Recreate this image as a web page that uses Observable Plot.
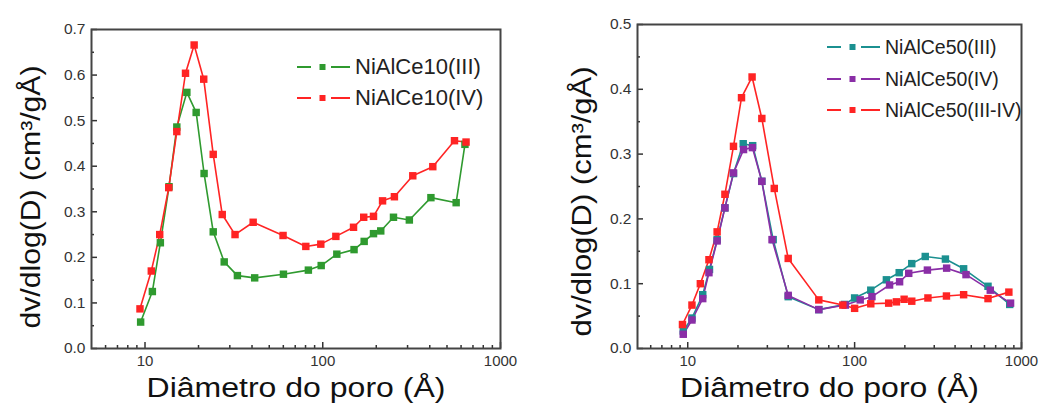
<!DOCTYPE html>
<html>
<head>
<meta charset="utf-8">
<script src="https://cdn.jsdelivr.net/npm/d3@7"></script>
<script src="https://cdn.jsdelivr.net/npm/@observablehq/plot@0.6"></script>
<style>
  body { margin: 0; background: #fff; font-family: "Liberation Sans", Arial, sans-serif; }
  #wrap { position: relative; width: 1048px; height: 403px; overflow: hidden; }
  .panel { position: absolute; top: 0; }
  .panel svg { max-width: none; overflow: visible; }
  .legend { position: absolute; color: #222; }
  .legend .row { position: absolute; display: flex; align-items: center; white-space: nowrap; }
  .legend svg { display: block; margin-right: 5px; }
</style>
</head>
<body>
<div id="wrap"></div>
<script>
// Pore size distributions: diameter (Å) against dV/dlog(D) (cm³/gÅ)

// NiAlCe10(III)
const ce10IIIDiam  = [9.45, 11.0, 12.2, 13.65, 15.1, 17.2, 19.4, 21.5, 24.2, 27.9, 33.1, 41.4, 60.1, 83, 98, 120, 150, 171, 193, 212, 250, 307, 406, 563, 631];
const ce10IIIValue = [0.058, 0.125, 0.232, 0.355, 0.486, 0.562, 0.518, 0.384, 0.256, 0.19, 0.16, 0.155, 0.163, 0.172, 0.182, 0.207, 0.217, 0.235, 0.252, 0.258, 0.288, 0.282, 0.331, 0.32, 0.448];

// NiAlCe10(IV)
const ce10IVDiam  = [9.37, 10.85, 12.1, 13.6, 15.1, 16.9, 18.9, 21.4, 24.2, 27.2, 32.1, 40.6, 59.8, 80.3, 97.5, 118.5, 149, 170, 193, 217, 253, 321, 416, 551, 640];
const ce10IVValue = [0.087, 0.17, 0.25, 0.353, 0.476, 0.604, 0.666, 0.591, 0.426, 0.294, 0.25, 0.277, 0.248, 0.224, 0.229, 0.246, 0.266, 0.288, 0.29, 0.324, 0.333, 0.379, 0.399, 0.456, 0.453];

// NiAlCe50(III)
const ce50IIIDiam  = [9.4, 10.6, 12.3, 13.5, 15.0, 16.7, 18.8, 21.5, 24.5, 27.8, 32.5, 40, 61, 87, 100, 125, 155, 185, 220, 265, 350, 450, 630, 850];
const ce50IIIValue = [0.027, 0.047, 0.083, 0.122, 0.168, 0.217, 0.27, 0.316, 0.313, 0.258, 0.168, 0.08, 0.06, 0.068, 0.078, 0.09, 0.106, 0.117, 0.131, 0.142, 0.138, 0.123, 0.096, 0.068];

// NiAlCe50(IV)
const ce50IVDiam  = [9.4, 10.6, 12.3, 13.4, 15.0, 16.7, 18.8, 21.6, 24.4, 27.8, 32.0, 40, 61, 88, 108, 127, 162, 186, 211, 273, 356, 465, 650, 860];
const ce50IVValue = [0.022, 0.044, 0.077, 0.117, 0.166, 0.217, 0.271, 0.307, 0.31, 0.258, 0.168, 0.082, 0.06, 0.067, 0.075, 0.08, 0.098, 0.103, 0.116, 0.121, 0.124, 0.114, 0.09, 0.07];

// NiAlCe50(III-IV)
const ce50MixDiam  = [9.3, 10.6, 11.9, 13.4, 15.0, 16.7, 18.8, 21.0, 24.3, 27.8, 33.0, 40, 61, 85, 100, 125, 160, 178, 198, 220, 275, 355, 450, 630, 840];
const ce50MixValue = [0.037, 0.067, 0.1, 0.137, 0.18, 0.238, 0.312, 0.387, 0.419, 0.355, 0.247, 0.139, 0.075, 0.067, 0.062, 0.069, 0.07, 0.072, 0.076, 0.073, 0.078, 0.081, 0.083, 0.077, 0.087];

// Axis ticks
const xDomain = [5, 1000];
const xMajorTicks = [10, 100, 1000];
const xMinorTicks = [6, 7, 8, 9, 20, 30, 40, 50, 60, 70, 80, 90, 200, 300, 400, 500, 600, 700, 800, 900];
const xTitle = "Diâmetro do poro (Å)";
const yTitle = "dv/dlog(D) (cm³/gÅ)";

const panels = [
  {
    left: 0, width: 520, marginLeft: 91, marginRight: 20, marginTop: 29, yMax: 0.7,
    yLabelDx: -60, yLabelDy: 8, yLabelLength: 263,
    series: [
      {name: "NiAlCe10(III)", diam: ce10IIIDiam, value: ce10IIIValue, color: "#2f9a2f"},
      {name: "NiAlCe10(IV)", diam: ce10IVDiam, value: ce10IVValue, color: "#ff2424"}
    ],
    legend: {left: 297, rows: [67, 98], fontSize: 22}
  },
  {
    left: 520, width: 528, marginLeft: 117, marginRight: 27, marginTop: 24, yMax: 0.5,
    yLabelDx: -55, yLabelDy: 15, yLabelLength: 270,
    series: [
      {name: "NiAlCe50(III)", diam: ce50IIIDiam, value: ce50IIIValue, color: "#1b9090"},
      {name: "NiAlCe50(IV)", diam: ce50IVDiam, value: ce50IVValue, color: "#8a2ea6"},
      {name: "NiAlCe50(III-IV)", diam: ce50MixDiam, value: ce50MixValue, color: "#ff2424"}
    ],
    legend: {left: 827, rows: [47, 79, 110], fontSize: 19.5}
  }
];

const wrap = document.getElementById("wrap");

for (const p of panels) {
  const rows = p.series.flatMap(s => s.diam.map((d, i) => ({diam: d, value: s.value[i], name: s.name})));
  const yMajor = d3.range(0, Math.round(p.yMax * 10) + 1).map(i => i / 10);
  const yMinor = d3.range(0, Math.round(p.yMax * 10)).map(i => i / 10 + 0.05);

  const chart = Plot.plot({
    width: p.width,
    height: 403,
    marginLeft: p.marginLeft,
    marginRight: p.marginRight,
    marginTop: p.marginTop,
    marginBottom: 55,
    style: {fontFamily: '"Liberation Sans", Arial, sans-serif', background: "transparent", overflow: "visible"},
    x: {type: "log", domain: xDomain, axis: null},
    y: {domain: [0, p.yMax], axis: null},
    color: {domain: p.series.map(s => s.name), range: p.series.map(s => s.color)},
    marks: [
      // tick labels
      Plot.axisX({ticks: xMajorTicks, tickSize: 0, tickPadding: 7, tickFormat: d => String(d), fontSize: 15, fill: "#333", label: null}),
      Plot.axisY({ticks: yMajor, tickSize: 0, tickPadding: 6, tickFormat: d3.format(".1f"), fontSize: 15.5, fill: "#333", label: null}),
      // inward tick marks
      Plot.axisX({ticks: xMajorTicks, tickSize: -6, tickFormat: () => "", stroke: "#333", strokeWidth: 1.5, label: null}),
      Plot.axisX({ticks: xMinorTicks, tickSize: -3, tickFormat: () => "", stroke: "#333", strokeWidth: 1.5, label: null}),
      Plot.axisY({ticks: yMajor, tickSize: -6, tickFormat: () => "", stroke: "#333", strokeWidth: 1.5, label: null}),
      Plot.axisY({ticks: yMinor, tickSize: -3, tickFormat: () => "", stroke: "#333", strokeWidth: 1.5, label: null}),
      // curves
      Plot.line(rows, {x: "diam", y: "value", z: "name", stroke: "name", strokeWidth: 1.6}),
      Plot.dot(rows, {x: "diam", y: "value", fill: "name", symbol: "square", r: 4.2}),
      Plot.frame({stroke: "#444", strokeWidth: 2}),
      // axis titles
      Plot.text([xTitle], {frameAnchor: "bottom", textAnchor: "middle", lineAnchor: "middle", dy: 40, fontSize: 27, fill: "#111"}),
      Plot.text([yTitle], {frameAnchor: "left", textAnchor: "middle", lineAnchor: "middle", rotate: -90, dx: p.yLabelDx, dy: p.yLabelDy, fontSize: 28, fill: "#111"})
    ]
  });

  // stretch the axis titles to their printed lengths
  const texts = d3.select(chart).selectAll("text");
  texts.filter(function() { return this.textContent === xTitle; })
    .attr("textLength", 299).attr("lengthAdjust", "spacingAndGlyphs");
  texts.filter(function() { return this.textContent === yTitle; })
    .attr("textLength", p.yLabelLength).attr("lengthAdjust", "spacingAndGlyphs");

  const holder = document.createElement("div");
  holder.className = "panel";
  holder.style.left = p.left + "px";
  holder.style.width = p.width + "px";
  holder.appendChild(chart);
  wrap.appendChild(holder);

  // legend: dash – square – dash swatch followed by the series name
  const legend = document.createElement("div");
  legend.className = "legend";
  legend.style.left = p.legend.left + "px";
  legend.style.top = "0px";
  p.series.forEach((s, i) => {
    const row = document.createElement("div");
    row.className = "row";
    row.style.top = (p.legend.rows[i] - 15) + "px";
    row.style.height = "30px";
    row.style.fontSize = p.legend.fontSize + "px";
    row.innerHTML =
      `<svg width="53" height="12" viewBox="0 0 53 12">` +
      `<line x1="0" x2="14" y1="6" y2="6" stroke="${s.color}" stroke-width="2"/>` +
      `<rect x="22.5" y="3" width="6" height="6" fill="${s.color}"/>` +
      `<line x1="34" x2="53" y1="6" y2="6" stroke="${s.color}" stroke-width="2"/>` +
      `</svg><span>${s.name}</span>`;
    legend.appendChild(row);
  });
  wrap.appendChild(legend);
}
</script>
</body>
</html>
